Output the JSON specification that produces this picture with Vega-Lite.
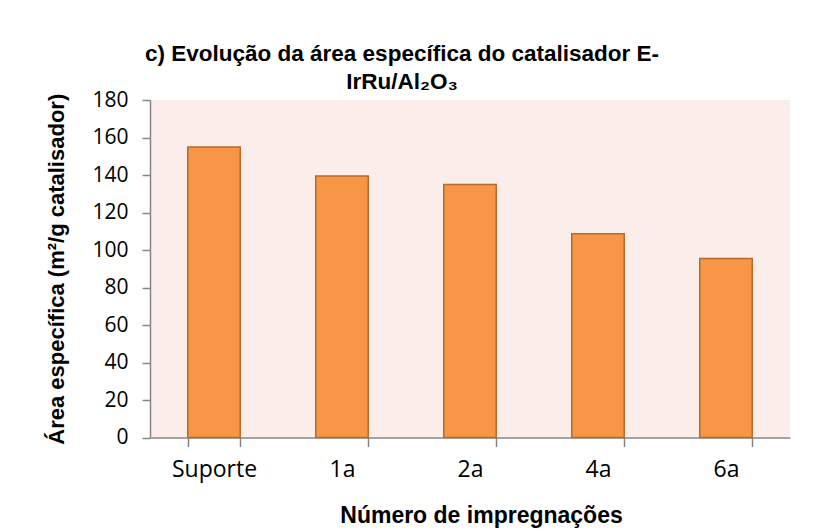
{
  "$schema": "https://vega.github.io/schema/vega-lite/v6.json",
  "width": 640,
  "height": 337.5,
  "autosize": {"type": "none"},
  "padding": {"left": 150, "top": 100, "right": 44, "bottom": 94.5},
  "background": "white",
  "config": {
    "view": {"fill": "#FBEDE9", "stroke": null}
  },
  "title": {
    "text": ["c) Evolução da área específica do catalisador E-", "IrRu/Al₂O₃"],
    "font": "Liberation Sans",
    "fontSize": 22.5,
    "fontWeight": "bold",
    "color": "#000000",
    "anchor": "middle",
    "frame": "group",
    "baseline": "alphabetic",
    "dx": -68,
    "lineHeight": 28,
    "offset": -22
  },
  "data": {
    "values": [
      {"imp": "Suporte", "area": 155},
      {"imp": "1a", "area": 139.5},
      {"imp": "2a", "area": 135},
      {"imp": "4a", "area": 108.7},
      {"imp": "6a", "area": 95.5}
    ]
  },
  "mark": {"type": "bar", "fill": "#F79646", "stroke": "#B8692C", "strokeWidth": 1.5},
  "encoding": {
    "x": {
      "field": "imp",
      "type": "nominal",
      "sort": null,
      "scale": {"paddingInner": 0.59, "paddingOuter": 0.295},
      "axis": {
        "title": "Número de impregnações",
        "titleFont": "Liberation Sans",
        "titleFontSize": 23,
        "titleFontWeight": "bold",
        "titleColor": "#000000",
        "titlePadding": 23,
        "titleX": 331,
        "labelFont": "Open Sans",
        "labelFontSize": 23,
        "labelColor": "#000000",
        "labelAngle": 0,
        "labelPadding": 12,
        "tickBand": "extent",
        "tickSize": 9,
        "tickColor": "#868686",
        "tickWidth": 1.5,
        "domainColor": "#868686",
        "domainWidth": 1.5,
        "grid": false
      }
    },
    "y": {
      "field": "area",
      "type": "quantitative",
      "scale": {"domain": [0, 180], "nice": false},
      "axis": {
        "title": "Área específica (m²/g catalisador)",
        "titleFont": "Liberation Sans",
        "titleFontSize": 22,
        "titleFontWeight": "bold",
        "titleColor": "#000000",
        "titlePadding": 23,
        "values": [0, 20, 40, 60, 80, 100, 120, 140, 160, 180],
        "labelFont": "Open Sans",
        "labelFontSize": 21,
        "labelColor": "#000000",
        "labelPadding": 14,
        "tickSize": 8,
        "tickColor": "#868686",
        "tickWidth": 1.5,
        "domainColor": "#868686",
        "domainWidth": 1.5,
        "grid": false
      }
    }
  }
}
